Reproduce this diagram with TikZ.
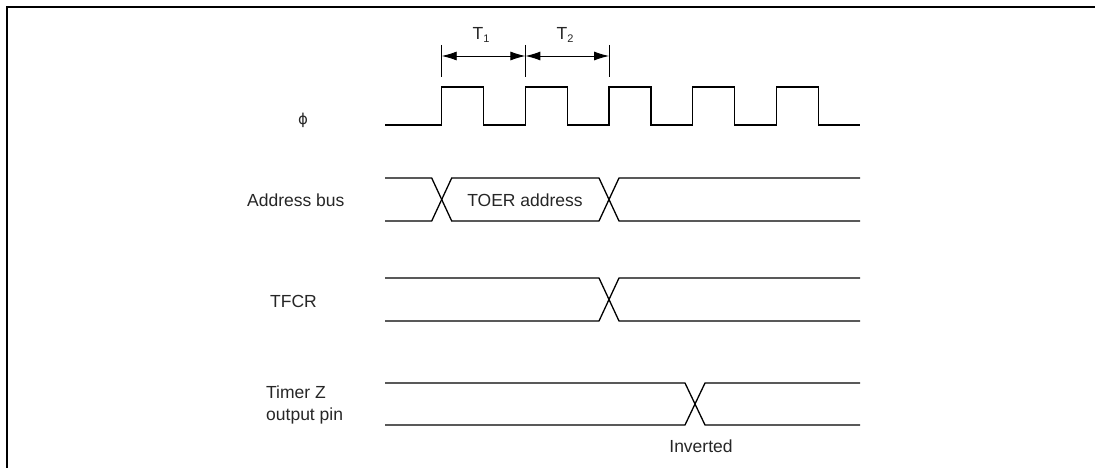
\documentclass[tikz,border=0pt]{standalone}
\usepackage{fontspec}
\setmainfont{Liberation Sans}
\newfontfamily\dejavu{DejaVu Sans}
\usetikzlibrary{arrows.meta}
\begin{document}
\begin{tikzpicture}[x=1pt,y=-1pt,
  wave/.style={line width=1.3pt, line join=miter},
  lbl/.style={font=\fontsize{17.5}{20}\selectfont, inner sep=0pt, text=black!85},
  ext/.style={line width=0.9pt},
  dimarrow/.style={line width=0.9pt, {Latex[length=15pt,width=9pt]}-{Latex[length=15pt,width=9pt]}},
  frame/.style={line width=2.4pt}]
\useasboundingbox (0,0) rectangle (1095,468);
% frame
\coordinate (fbl) at (7,468);
\coordinate (ftl) at (7,7);
\coordinate (ftr) at (1095,7);
\draw[frame] (fbl) -- (ftl) -- (ftr);

% clock phi
\draw[wave] (385,125) foreach \k in {0,...,4} {
   -- ({441.7+83.7*\k},125) -- ({441.7+83.7*\k},87) -- ({483.5+83.7*\k},87) -- ({483.5+83.7*\k},125) } -- (860,125);

% T1, T2 dimension
\coordinate (e1t) at (441.7,45); \coordinate (e1b) at (441.7,77);
\coordinate (e2t) at (525.4,45); \coordinate (e2b) at (525.4,77);
\coordinate (e3t) at (609.1,45); \coordinate (e3b) at (609.1,77);
\draw[ext] (e1t) -- (e1b);
\draw[ext] (e2t) -- (e2b);
\draw[ext] (e3t) -- (e3b);
\coordinate (a1) at (441.7,56); \coordinate (a2) at (525.4,56); \coordinate (a3) at (609.1,56);
\draw[dimarrow] (a1) -- (a2);
\draw[dimarrow] (a2) -- (a3);
\node[lbl] (t1) at (481,35) {T\raisebox{-0.15em}{\fontsize{11}{12}\selectfont 1}};
\node[lbl] (t2) at (565,35) {T\raisebox{-0.15em}{\fontsize{11}{12}\selectfont 2}};

% labels
\node[lbl] (phi) at (303,120) {\dejavu\fontsize{15}{18}\selectfont ϕ};
\node[lbl, anchor=west] (addr) at (247,200) {Address bus};
\node[lbl, anchor=west] (tfcr) at (270,301) {TFCR};
\node[lbl, anchor=west, align=left] (tmz) at (266,405) {Timer Z\\[2pt]output pin};

% address bus
\draw[wave] (385,178) -- (431.7,178) -- (451.7,221) -- (599,221) -- (619,178) -- (860,178);
\draw[wave] (385,221) -- (431.7,221) -- (451.7,178) -- (599,178) -- (619,221) -- (860,221);
\node[lbl] (toer) at (525,200) {TOER address};

% TFCR
\draw[wave] (385,278) -- (599,278) -- (619,321) -- (860,321);
\draw[wave] (385,321) -- (599,321) -- (619,278) -- (860,278);

% Timer Z output pin
\draw[wave] (385,383) -- (685,383) -- (705,425) -- (860,425);
\draw[wave] (385,425) -- (685,425) -- (705,383) -- (860,383);
\node[lbl] (inv) at (701,446) {Inverted};
\end{tikzpicture}
\end{document}
